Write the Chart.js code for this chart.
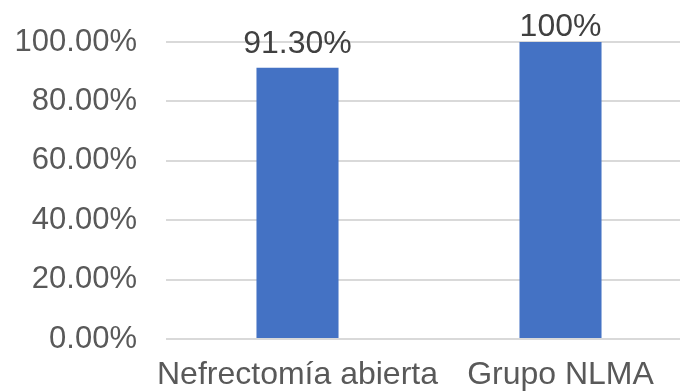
<!DOCTYPE html>
<html>
<head>
<meta charset="utf-8">
<script src="https://cdn.jsdelivr.net/npm/chart.js@4"></script>
<style>
  html, body { margin: 0; padding: 0; background: #fff; overflow: hidden; }
  #wrap { width: 700px; height: 392px; }
</style>
</head>
<body>
<div id="wrap"><canvas id="barChart"></canvas></div>
<script>
const categories = ["Nefrectomía abierta", "Grupo NLMA"];
const values = [91.3, 100];
const valueLabels = ["91.30%", "100%"];
const yTicks = [0, 20, 40, 60, 80, 100];

Chart.defaults.font.family = "'Liberation Sans', Arial, sans-serif";
Chart.defaults.color = "#595959";

// Draws the text above each bar
const valueLabelPlugin = {
  id: "valueLabels",
  afterDatasetsDraw(chart, args, opts) {
    const ctx = chart.ctx;
    const meta = chart.getDatasetMeta(0);
    ctx.save();
    ctx.font = "32px 'Liberation Sans', Arial, sans-serif";
    ctx.fillStyle = "#404040";
    ctx.textAlign = "center";
    ctx.textBaseline = "alphabetic";
    meta.data.forEach((bar, i) => {
      ctx.fillText(valueLabels[i], bar.x, bar.y - opts.offsets[i]);
    });
    ctx.restore();
  }
};

new Chart(
  document.getElementById("barChart"),
  {
    type: "bar",
    data: {
      labels: categories,
      datasets: [{
        data: values,
        backgroundColor: "#4472C4",
        borderWidth: 0,
        barPercentage: 1,
        categoryPercentage: 0.312,
      }]
    },
    plugins: [valueLabelPlugin],
    options: {
      responsive: true,
      maintainAspectRatio: false,
      animation: false,
      layout: {
        padding: { left: 14, right: 8, top: 42, bottom: 0 }
      },
      scales: {
        x: {
          grid: { display: false },
          border: { display: false },
          afterFit: (axis) => {
            axis.height = 53;
            axis.paddingLeft = 0;
            axis.paddingRight = 0;
          },
          ticks: {
            padding: 9,
            maxRotation: 0,
            minRotation: 0,
            autoSkip: false,
            font: { size: 32 },
            color: "#595959",
          },
        },
        y: {
          min: 0,
          max: 100,
          afterBuildTicks: (axis) => {
            axis.ticks = yTicks.map(v => ({ value: v }));
          },
          afterFit: (axis) => {
            axis.width = 152;
            axis.paddingTop = 0;
            axis.paddingBottom = 0;
          },
          grid: {
            color: "#d9d9d9",
            lineWidth: 2,
            drawTicks: false,
          },
          border: { display: false },
          ticks: {
            padding: 29,
            font: { size: 31 },
            color: "#595959",
            callback: (v) => v.toFixed(2) + "%",
          },
        }
      },
      plugins: {
        legend: { display: false },
        tooltip: { enabled: false },
        valueLabels: { offsets: [15, 6] }
      }
    }
  }
);
</script>
</body>
</html>
